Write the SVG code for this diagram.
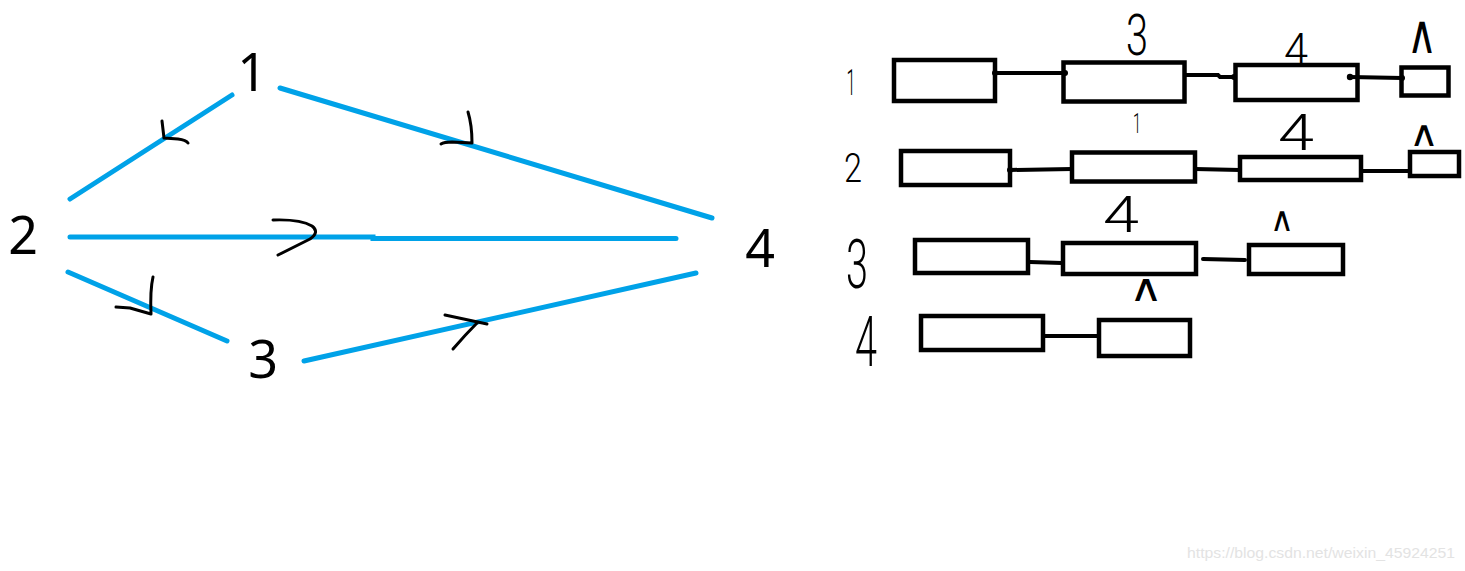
<svg xmlns="http://www.w3.org/2000/svg" width="1465" height="571" viewBox="0 0 1465 571">
<style>
.bg{fill:#fff}
.edge{stroke:#00a2e8;stroke-width:5;stroke-linecap:round;fill:none}
.mark{stroke:#000;stroke-width:3;stroke-linecap:round;stroke-linejoin:round;fill:none}
.num{font-family:"Noto Sans","DejaVu Sans",sans-serif;font-size:52px;fill:#000;text-anchor:middle}
.box{fill:none;stroke:#000;stroke-width:4.5}
.link{stroke:#000;stroke-width:4;stroke-linecap:round;fill:none}
.dot{fill:#000}
.hw{font-family:"Roboto","Lato","DejaVu Sans",sans-serif;font-weight:300;fill:#000;text-anchor:middle}
.nul{font-family:"DejaVu Sans",sans-serif;font-weight:normal;fill:#000;text-anchor:middle}
.wm{font-family:"Liberation Sans",Arial,sans-serif;font-size:15px;fill:#e3e3e3}
</style>
<rect class="bg" x="0" y="0" width="1465" height="571"/>
<g id="connectors">
  <line class="edge" x1="70" y1="199" x2="232" y2="95"/>
  <line class="edge" x1="280" y1="88" x2="712" y2="218"/>
  <polyline class="edge" points="70,237 373,237 373,238.5 676,238.5"/>
  <line class="edge" x1="68" y1="272" x2="227" y2="341"/>
  <line class="edge" x1="304" y1="361" x2="696" y2="273"/>
  <path class="mark" d="M162,121 L164,138 L178,139 Q186,140 188,143"/>
  <path class="mark" d="M468,112 Q472,125 472,143 L452,142 Q444,142 441,144"/>
  <path class="mark" d="M273,220 Q300,219 312,226 Q320,232 310,239 L278,255"/>
  <path class="mark" d="M153,277 Q150,290 151,314 L130,308 L116,307"/>
  <path class="mark" d="M445,315 L487,324 M478,322 Q465,335 453,349"/>
</g>
<g id="node-1"><text class="num" x="252" y="91">1</text></g>
<g id="node-2"><text class="num" x="23" y="254">2</text></g>
<g id="node-3"><text class="num" x="263" y="378">3</text></g>
<g id="node-4"><text class="num" x="760" y="267">4</text></g>
<g id="list-links">
  <line class="link" x1="995" y1="73" x2="1065" y2="73"/>
  <circle class="dot" cx="995" cy="73" r="3"/><circle class="dot" cx="1065" cy="73" r="3"/>
  <polyline class="link" points="1186,75 1218,75 1220,77 1234,77"/>
  <circle class="dot" cx="1234" cy="77" r="3"/>
  <line class="link" x1="1350" y1="77" x2="1402" y2="78"/>
  <circle class="dot" cx="1350" cy="77" r="3.2"/><circle class="dot" cx="1402" cy="78" r="3"/>
  <line class="link" x1="1010" y1="170" x2="1072" y2="169"/>
  <circle class="dot" cx="1010" cy="170" r="3"/>
  <line class="link" x1="1195" y1="169" x2="1240" y2="170"/>
  <line class="link" x1="1362" y1="171" x2="1410" y2="171"/>
  <line class="link" x1="1030" y1="262" x2="1062" y2="263"/>
  <line class="link" x1="1203" y1="259" x2="1245" y2="260"/>
  <line class="link" x1="1045" y1="336" x2="1097" y2="336"/>
</g>
<g id="row-1">
  <text class="hw" x="851" y="95" font-size="37" textLength="9" lengthAdjust="spacingAndGlyphs">1</text>
  <rect class="box" x="894" y="60" width="101" height="41"/>
  <rect class="box" x="1063.5" y="62.5" width="121" height="39"/>
  <rect class="box" x="1235.5" y="65" width="122" height="35"/>
  <rect class="box" x="1401.5" y="67.5" width="47" height="28"/>
  <text class="hw" x="1137" y="55" font-size="58" textLength="22" lengthAdjust="spacingAndGlyphs">3</text>
  <text class="hw" x="1296" y="65" font-size="44" textLength="24" lengthAdjust="spacingAndGlyphs">4</text>
  <text class="nul" x="1422" y="53" font-size="54" textLength="30" lengthAdjust="spacingAndGlyphs">∧</text>
</g>
<g id="row-2">
  <text class="hw" x="853" y="182" font-size="40" textLength="18" lengthAdjust="spacingAndGlyphs">2</text>
  <rect class="box" x="901" y="151" width="109" height="34"/>
  <rect class="box" x="1072" y="152.5" width="123" height="29"/>
  <rect class="box" x="1240" y="157" width="121" height="23"/>
  <rect class="box" x="1410" y="152" width="49" height="24"/>
  <text class="hw" x="1137" y="133" font-size="28" textLength="8" lengthAdjust="spacingAndGlyphs">1</text>
  <text class="hw" x="1296" y="150" font-size="50" textLength="36" lengthAdjust="spacingAndGlyphs">4</text>
  <text class="nul" x="1424" y="146" font-size="36" textLength="30" lengthAdjust="spacingAndGlyphs">∧</text>
</g>
<g id="row-3">
  <text class="hw" x="857" y="288" font-size="68" textLength="22" lengthAdjust="spacingAndGlyphs">3</text>
  <rect class="box" x="915" y="240" width="113" height="33"/>
  <rect class="box" x="1063" y="243" width="133" height="31"/>
  <rect class="box" x="1249" y="245" width="94" height="29"/>
  <text class="hw" x="1121" y="232" font-size="50" textLength="36" lengthAdjust="spacingAndGlyphs">4</text>
  <text class="nul" x="1282" y="231" font-size="34" textLength="24" lengthAdjust="spacingAndGlyphs">∧</text>
</g>
<g id="row-4">
  <text class="hw" x="866" y="366" font-size="70" textLength="22" lengthAdjust="spacingAndGlyphs">4</text>
  <rect class="box" x="921" y="316" width="122" height="34"/>
  <rect class="box" x="1099" y="320" width="91" height="36"/>
  <text class="nul" x="1146" y="301" font-size="38" textLength="34" lengthAdjust="spacingAndGlyphs">∧</text>
</g>
<text class="wm" x="1187" y="558" textLength="268" lengthAdjust="spacingAndGlyphs">https://blog.csdn.net/weixin_45924251</text>
</svg>
